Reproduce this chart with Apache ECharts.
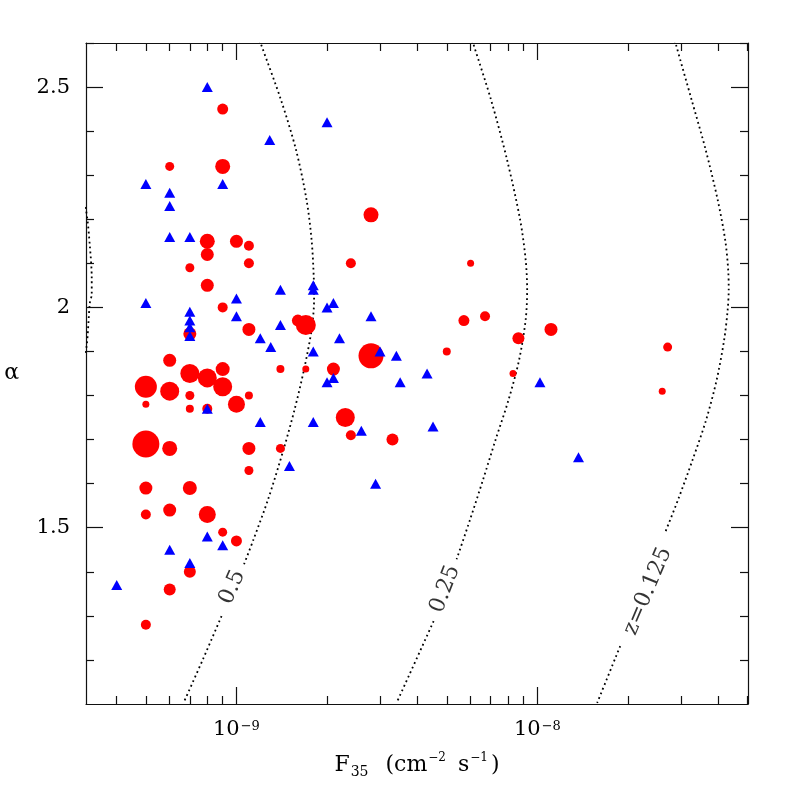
<!DOCTYPE html>
<html><head><meta charset="utf-8">
<script src="https://cdn.jsdelivr.net/npm/echarts@6/dist/echarts.min.js"></script>
<style>html,body{margin:0;padding:0;background:#fff}#c{width:789px;height:789px}</style>
</head><body><div id="c"></div>
<script>
// ---- axis ranges (flux in cm^-2 s^-1, alpha) ----
const fluxMin = 3.1623e-10, fluxMax = 5.012e-8;
const alphaMin = 1.1, alphaMax = 2.6;
const xMajorTicks = [1e-9, 1e-8];
const xMinorTicks = [4e-10,5e-10,6e-10,7e-10,8e-10,9e-10,2e-9,3e-9,4e-9,5e-9,6e-9,7e-9,8e-9,9e-9,2e-8,3e-8,4e-8,5e-8];
const yMajorTicks = [1.5, 2, 2.5];
const yMinorTicks = [1.2,1.3,1.4,1.6,1.7,1.8,1.9,2.1,2.2,2.3,2.4,2.6];

// ---- red circles: flux, alpha, weight (drawn as circle size) ----
const redF = [9e-10,6e-10,9e-10,8e-10,1e-9,1.1e-9,8e-10,1.1e-9,7e-10,8e-10,9e-10,1.1e-9,7e-10,6e-10,7e-10,8e-10,9e-10,9e-10,5e-10,6e-10,7e-10,5e-10,7e-10,8e-10,1e-9,1.1e-9,1.4e-9,5e-10,6e-10,1.1e-9,1.4e-9,1.1e-9,5e-10,7e-10,5e-10,6e-10,8e-10,9e-10,1e-9,7e-10,6e-10,5e-10,1.6e-9,1.7e-9,5.7e-9,6.7e-9,8.65e-9,2.8e-9,5e-9,1.7e-9,2.1e-9,8.3e-9,2.3e-9,2.4e-9,3.3e-9,2.8e-9,2.4e-9,6e-9,1.11e-8,2.71e-8,2.6e-8];
const redAlpha = [2.45,2.32,2.32,2.15,2.15,2.14,2.12,2.10,2.09,2.05,2.00,1.95,1.94,1.88,1.85,1.84,1.86,1.82,1.82,1.81,1.80,1.78,1.77,1.77,1.78,1.80,1.86,1.69,1.68,1.68,1.68,1.63,1.59,1.59,1.53,1.54,1.53,1.49,1.47,1.40,1.36,1.28,1.97,1.96,1.97,1.98,1.93,1.89,1.90,1.86,1.86,1.85,1.75,1.71,1.70,2.21,2.10,2.10,1.95,1.91,1.81];
const redWeight = [11,9,15,15,13,10,13,10,9,13,10,13,13,13,19,19,14,19,22,19,9,7,8,10,17,8,8,27,15,13,9,9,13,14,10,13,17,9,11,12,12,10,12,20,11,10,12,25,8,7,13,7,19,10,12,15,10,7,13,9,7];

// ---- blue triangles: flux, alpha ----
const blueF = [8e-10,1.29e-9,5e-10,9e-10,6e-10,6e-10,6e-10,7e-10,5e-10,1e-9,1.4e-9,7e-10,7e-10,7e-10,7e-10,1e-9,1.2e-9,1.3e-9,1.4e-9,8e-10,1.2e-9,1.5e-9,8e-10,9e-10,6e-10,7e-10,4e-10,1.8e-9,1.8e-9,2.1e-9,2.0e-9,2.8e-9,2.2e-9,1.8e-9,3.0e-9,3.4e-9,2.1e-9,2.0e-9,3.5e-9,4.3e-9,1.02e-8,1.8e-9,2.6e-9,4.5e-9,2.9e-9,1.37e-8,2.0e-9];
const blueAlpha = [2.50,2.38,2.28,2.28,2.26,2.23,2.16,2.16,2.01,2.02,2.04,1.99,1.97,1.955,1.935,1.98,1.93,1.91,1.96,1.77,1.74,1.64,1.48,1.46,1.45,1.42,1.37,2.05,2.04,2.01,2.00,1.98,1.93,1.90,1.90,1.89,1.84,1.83,1.83,1.85,1.83,1.74,1.72,1.73,1.60,1.66,2.42];

// ---- constant-redshift curves (flux, alpha), split where the labels sit ----
const zOneF = [3.02e-10,3.162e-10,3.258e-10,3.304e-10,3.304e-10,3.258e-10,3.177e-10,3.09e-10];
const zOneA = [2.26,2.221,2.138,2.066,2.029,2.011,1.912,1.88];
const zHalfUpperF = [1.180e-9,1.207e-9,1.407e-9,1.578e-9,1.710e-9,1.777e-9,1.808e-9,1.811e-9,1.777e-9,1.677e-9,1.560e-9,1.434e-9,1.274e-9,1.140e-9,1.060e-9];
const zHalfUpperA = [2.6174,2.5971,2.4702,2.3570,2.2437,2.1532,2.0626,2.0173,1.9494,1.8588,1.7682,1.6776,1.5644,1.4738,1.4172];
const zHalfLowerF = [8.923e-10,7.745e-10,6.669e-10];
const zHalfLowerA = [1.2995,1.2021,1.1024];
const zQuarterUpperF = [6.003e-9,6.133e-9,7.021e-9,7.934e-9,8.766e-9,9.143e-9,9.249e-9,9.143e-9,8.700e-9,8.026e-9,7.268e-9,6.603e-9,5.979e-9,5.391e-9];
const zQuarterUpperA = [2.6174,2.5971,2.4702,2.3344,2.1985,2.1079,2.0399,1.9720,1.8814,1.7908,1.7002,1.6096,1.5190,1.4284];
const zQuarterLowerF = [4.521e-9,3.405e-9];
const zQuarterLowerA = [1.2880,1.1024];
const zEighthUpperF = [2.834e-8,2.886e-8,3.258e-8,3.627e-8,3.975e-8,4.209e-8,4.307e-8,4.324e-8,4.290e-8,4.177e-8,3.945e-8,3.641e-8,3.283e-8,2.938e-8,2.660e-8];
const zEighthUpperA = [2.6174,2.5971,2.4702,2.3570,2.2437,2.1532,2.0852,2.0399,1.9946,1.9267,1.8361,1.7455,1.6549,1.5644,1.4896];
const zEighthLowerF = [1.885e-8,1.580e-8];
const zEighthLowerA = [1.2315,1.1024];

// ---- curve labels ----
const curveLabelText = ['0.5', '0.25', 'z=0.125'];
const curveLabelF = [9.70e-10, 4.937e-9, 2.328e-8];
const curveLabelA = [1.365, 1.361, 1.356];
const curveLabelAngle = [66, 69, 67];

// ------------------------------------------------------------
const L = Math.log10;
const SERIF = '"DejaVu Serif", serif';
const INK = '#111';
const pairs = (fs, as) => fs.map((f, i) => [L(f), as[i]]);

function xAxis(pos, ticks, len, labels, line) {
  return {
    type: 'value', position: pos, min: L(fluxMin), max: L(fluxMax),
    axisLine: { show: line, onZero: false, lineStyle: { color: INK, width: 1.2 } },
    axisTick: { show: true, inside: true, length: len, customValues: ticks.map(L),
      lineStyle: { color: INK, width: 1.2 } },
    axisLabel: labels ? {
      show: true, customValues: ticks.map(L), margin: 14,
      formatter: v => '{n|10}{e|\u2212' + Math.round(Math.abs(v)) + '}',
      rich: {
        n: { fontFamily: SERIF, fontSize: 21, lineHeight: 24, color: '#000' },
        e: { fontFamily: SERIF, fontSize: 13, lineHeight: 13, verticalAlign: 'top', padding: [2, 0, 0, 1], color: '#000' }
      }
    } : { show: false },
    splitLine: { show: false }
  };
}
function yAxis(pos, ticks, len, labels, line) {
  return {
    type: 'value', position: pos, min: alphaMin, max: alphaMax,
    axisLine: { show: line, onZero: false, lineStyle: { color: INK, width: 1.2 } },
    axisTick: { show: true, inside: true, length: len, customValues: ticks,
      lineStyle: { color: INK, width: 1.2 } },
    axisLabel: labels ? {
      show: true, customValues: ticks, margin: 16, align: 'right',
      fontFamily: SERIF, fontSize: 21, color: '#000'
    } : { show: false },
    splitLine: { show: false }
  };
}

const xs = [
  xAxis('bottom', xMajorTicks, 17, true, true),
  xAxis('bottom', xMinorTicks, 8, false, false),
  xAxis('top', xMajorTicks, 17, false, true),
  xAxis('top', xMinorTicks, 8, false, false)
];
xs[0].name = '{m|F}{sub|35}{m|(cm}{supA|\u22122}{m|s}{supB|\u22121}{m|)}';
xs[0].nameLocation = 'middle';
xs[0].nameGap = 47;
xs[0].nameTextStyle = {
  fontFamily: SERIF, color: '#000',
  rich: {
    m: { fontFamily: SERIF, fontSize: 22, lineHeight: 28, color: '#000' },
    sub: { fontFamily: SERIF, fontSize: 14, lineHeight: 14, verticalAlign: 'bottom', padding: [0, 17, 0, 1], color: '#000' },
    supA: { fontFamily: SERIF, fontSize: 12, lineHeight: 12, verticalAlign: 'top', padding: [1, 12, 0, 1], color: '#000' },
    supB: { fontFamily: SERIF, fontSize: 12, lineHeight: 12, verticalAlign: 'top', padding: [1, 3, 0, 1], color: '#000' }
  }
};
const ys = [
  yAxis('left', yMajorTicks, 17, true, true),
  yAxis('left', yMinorTicks, 8, false, false),
  yAxis('right', yMajorTicks, 17, false, true),
  yAxis('right', yMinorTicks, 8, false, false)
];
ys[0].name = '\u03b1';
ys[0].nameLocation = 'middle';
ys[0].nameRotate = 0;
ys[0].nameGap = 67;
ys[0].nameTextStyle = { fontFamily: SERIF, fontSize: 22, color: '#000' };

const dotted = { color: '#000', width: 1.8, type: [1.8, 3.2], cap: 'butt' };
const curve = (fs, as) => ({
  type: 'line', data: pairs(fs, as), showSymbol: false, symbol: 'none',
  smooth: 0.3, lineStyle: dotted, silent: true, clip: true, z: 1
});

const chart = echarts.init(document.getElementById('c'), null, { renderer: 'canvas' });
chart.setOption({
  animation: false,
  backgroundColor: '#fff',
  grid: { left: 86, top: 43, right: 41, bottom: 85, containLabel: false, outerBoundsMode: 'none' },
  xAxis: xs,
  yAxis: ys,
  series: [
    curve(zOneF, zOneA),
    curve(zHalfUpperF, zHalfUpperA),
    curve(zHalfLowerF, zHalfLowerA),
    curve(zQuarterUpperF, zQuarterUpperA),
    curve(zQuarterLowerF, zQuarterLowerA),
    curve(zEighthUpperF, zEighthUpperA),
    curve(zEighthLowerF, zEighthLowerA),
    {
      type: 'scatter', z: 3,
      data: redF.map((f, i) => [L(f), redAlpha[i], redWeight[i]]),
      symbol: 'circle', symbolSize: v => v[2],
      itemStyle: { color: '#ff0000', opacity: 1 }
    },
    {
      type: 'scatter', z: 4,
      data: blueF.map((f, i) => [L(f), blueAlpha[i]]),
      symbol: 'triangle', symbolSize: [11, 10],
      itemStyle: { color: '#0000ff', opacity: 1 }
    },
    {
      type: 'scatter', z: 5, silent: true, symbolSize: 0,
      data: curveLabelText.map((t, i) => ({
        name: t, value: [L(curveLabelF[i]), curveLabelA[i]],
        label: { rotate: curveLabelAngle[i] }
      })),
      label: { show: true, position: 'inside', formatter: p => p.name,
        fontFamily: SERIF, fontSize: 22, color: '#000' }
    }
  ]
});
</script></body></html>
